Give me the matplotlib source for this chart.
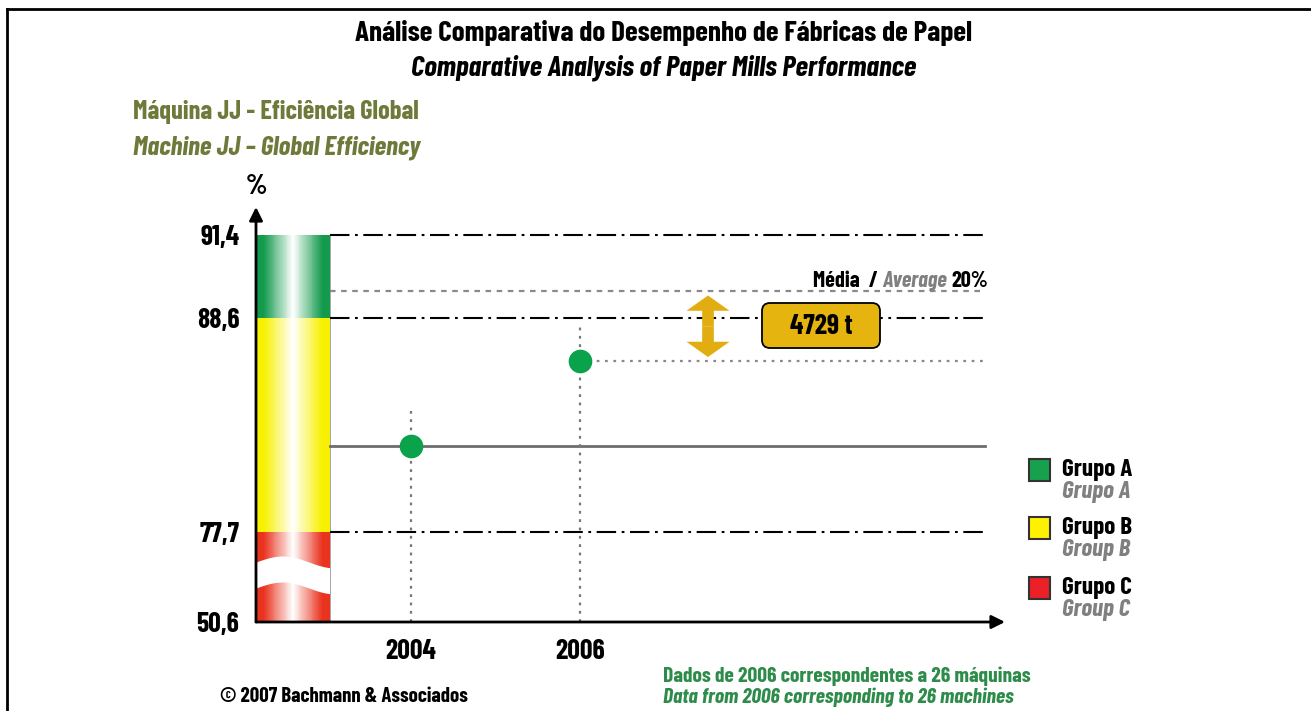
import numpy as np
import matplotlib
matplotlib.use("Agg")
import matplotlib.pyplot as plt
from matplotlib.colors import LinearSegmentedColormap
from matplotlib.patches import FancyBboxPatch, Rectangle
from matplotlib.lines import Line2D
from matplotlib.transforms import IdentityTransform

plt.rcParams["font.family"] = ["Barlow Condensed", "DejaVu Sans"]
plt.rcParams["lines.scale_dashes"] = False

# --- data ---
years = [2004, 2006]
year_labels = ["2004", "2006"]
efficiency = [82.1, 86.4]          # % global efficiency, machine JJ
average = 89.5                     # average of top 20%
band_edges = [50.6, 77.7, 88.6, 91.4]
band_labels = ["50,6", "77,7", "88,6", "91,4"]
band_colors = ["#e9331f", "#f7f000", "#139a4c"]   # C, B, A (bottom to top)
groups_pt = ["Grupo A", "Grupo B", "Grupo C"]
groups_en = ["Grupo A", "Group B", "Group C"]
group_colors = ["#17a04e", "#fff200", "#ec2027"]
gap_label = "4729 t"

W, H = 1311, 711
fig = plt.figure(figsize=(W / 100, H / 100), dpi=100)
fig.patch.set_facecolor("white")

# broken (piecewise linear) value axis
seg_vals = [50.6, 77.7, 88.6, 91.4, 95.0]
seg_px = [0, 90, 304, 387, 387 + 3.6 * 29.6]


def fwd(v):
    return np.interp(v, seg_vals, seg_px)


def inv(p):
    return np.interp(p, seg_px, seg_vals)


px_per_year = (580 - 411) / 2


def x_of(px):
    return 2004 + (px - 411) / px_per_year


ax = fig.add_axes([256 / W, 89 / H, (1005 - 256) / W, 415 / H])
ax.set_yscale("function", functions=(fwd, inv))
for s in ax.spines.values():
    s.set_visible(False)

bar_x0, bar_x1 = x_of(256), x_of(330)
line_x0, line_x1 = x_of(330), x_of(985)

# gradient column
xs = np.linspace(bar_x0, bar_x1, 81)
grad = np.linspace(0, 1, 80)[None, :]
for lo, hi, c in zip(band_edges[:-1], band_edges[1:], band_colors):
    cmap = LinearSegmentedColormap.from_list("g", [(0, c), (0.1, c), (0.5, "white"),
                                                   (0.9, c), (1, c)])
    ax.pcolormesh(xs, [lo, hi], grad, cmap=cmap, shading="flat", zorder=1)

# break symbol in red band
t = np.linspace(0, 1, 60)
top = 60 + 6 * np.sin(1.4 * np.pi * t)
ax.fill_between(bar_x0 + t * (bar_x1 - bar_x0), inv(top - 26), inv(top),
                color="white", lw=0, zorder=2)
ax.plot([bar_x1, bar_x1], [band_edges[0], band_edges[-1]], color="#999999", lw=0.6, zorder=2)

# reference lines
for v in band_edges[1:]:
    ax.plot([line_x0, line_x1], [v, v], color="black", lw=1.5,
            ls=(0, (14, 4, 2, 4)), zorder=3)
ax.plot([line_x0, line_x1], [average, average], color="#8a8a8a", lw=1.6,
        ls=(0, (4, 4)), zorder=3)
ax.plot([line_x0, line_x1], [efficiency[0]] * 2, color="#6d6d6d", lw=2, zorder=3)
ax.plot([years[1], line_x1], [efficiency[1]] * 2, color="#888888", lw=1.6,
        ls=(0, (2, 4)), zorder=3)
for yr, v in zip(years, efficiency):
    ax.plot([yr, yr], [band_edges[0], inv(fwd(v) + 35)], color="#777777", lw=1.6,
            ls=(0, (2, 4)), zorder=3)

ax.scatter(years, efficiency, s=290, color="#0aa34b", zorder=5, lw=0)

# gap arrow
x_arrow = x_of(708)
mid = inv((fwd(average) + fwd(efficiency[1])) / 2)
for end in (average, efficiency[1]):
    ax.annotate("", xy=(x_arrow, end), xytext=(x_arrow, mid),
                arrowprops=dict(arrowstyle="simple,head_length=0.55,head_width=1.55,tail_width=0.42",
                                mutation_scale=20, lw=0, color="#e2ad10",
                                shrinkA=0, shrinkB=3), zorder=4)

ax.set_xlim(x_of(256), x_of(1005))
ax.set_ylim(band_edges[0], inv(415))
ax.set_yticks(band_edges)
ax.set_yticklabels(band_labels, fontsize=20, fontweight="bold")
ax.set_xticks(years)
ax.set_xticklabels(year_labels, fontsize=20, fontweight="bold")
ax.tick_params(axis="y", length=0, pad=12)
ax.tick_params(axis="x", length=0, pad=12)

# axis arrows
for tip in ((0, 1), (1, 0)):
    ax.annotate("", xy=tip, xytext=(0, 0), xycoords="axes fraction",
                arrowprops=dict(arrowstyle="-|>", lw=2, color="black", mutation_scale=20,
                                shrinkA=0, shrinkB=0), annotation_clip=False, zorder=6)

# gap box
box = FancyBboxPatch((762, H - 348), 118, 45, boxstyle="round,pad=0,rounding_size=8",
                     transform=IdentityTransform(), fc="#e6b40f", ec="black", lw=1.3)
fig.add_artist(box)
fig.text(821 / W, 1 - 326 / H, gap_label, ha="center", va="center", fontsize=20,
         fontweight="bold")

# average label
t1 = fig.text(813 / W, 1 - 281 / H, "Média  / ", ha="left", va="center", fontsize=16,
              fontweight="bold")
t2 = ax.annotate("Average ", xy=(1, 0), xycoords=t1, ha="left", va="bottom",
                 fontsize=16, fontweight="bold", style="italic", color="#808080")
ax.annotate("20%", xy=(1, 0), xycoords=t2, ha="left", va="bottom", fontsize=16,
            fontweight="bold")

# titles
fig.text(664 / W, 1 - 33 / H, "Análise Comparativa do Desempenho de Fábricas de Papel",
         ha="center", va="center", fontsize=21, fontweight="bold")
fig.text(664 / W, 1 - 68 / H, "Comparative Analysis of Paper Mills Performance",
         ha="center", va="center", fontsize=21, fontweight="bold", style="italic")
olive = "#6d7a3a"
fig.text(133 / W, 1 - 112 / H, "Máquina JJ - Eficiência Global", ha="left", va="center",
         fontsize=19, fontweight="bold", color=olive)
fig.text(133 / W, 1 - 148 / H, "Machine JJ – Global Efficiency", ha="left", va="center",
         fontsize=19.5, fontweight="bold", style="italic", color=olive)
fig.text(256 / W, 1 - 187 / H, "%", ha="center", va="center", fontsize=20,
         fontweight="bold")

# legend
for i, (pt, en, c) in enumerate(zip(groups_pt, groups_en, group_colors)):
    top_px = [459, 517, 577][i]
    fig.add_artist(Rectangle((1029, H - top_px - 22), 21, 22, transform=IdentityTransform(),
                             fc=c, ec="#333333", lw=1.5))
    fig.text(1062 / W, 1 - (top_px + 11) / H, pt, ha="left", va="center", fontsize=18,
             fontweight="bold")
    fig.text(1062 / W, 1 - (top_px + 33) / H, en, ha="left", va="center", fontsize=18,
             fontweight="bold", style="italic", color="#808080")

# footer
fig.text(220 / W, 1 - 697 / H, "© 2007 Bachmann & Associados", ha="left", va="center",
         fontsize=15, fontweight="bold")
green = "#2e8c4a"
fig.text(663 / W, 1 - 676 / H, "Dados de 2006 correspondentes a 26 máquinas", ha="left",
         va="center", fontsize=15.5, fontweight="bold", color=green)
fig.text(663 / W, 1 - 697 / H, "Data from 2006 corresponding to 26 machines", ha="left",
         va="center", fontsize=15.5, fontweight="bold", style="italic", color=green)

# frame
fig.add_artist(Line2D([7 / W, 1], [1 - 9 / H] * 2, transform=fig.transFigure, color="black",
                      lw=2))
fig.add_artist(Line2D([7 / W, 7 / W], [0, 1 - 9 / H], transform=fig.transFigure,
                      color="black", lw=2))

fig.savefig("out.png", dpi=100)
